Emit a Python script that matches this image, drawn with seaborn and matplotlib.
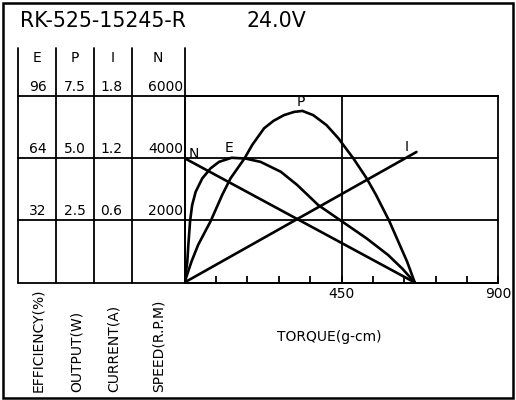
import matplotlib
matplotlib.use("Agg")
import matplotlib.pyplot as plt
from matplotlib.patches import Rectangle
import seaborn as sns

# ----------------- Data -----------------
model = "RK-525-15245-R"
voltage = "24.0V"

torque_speed = [0, 660]
speed_rpm = [4000, 0]

torque_current = [0, 665]
current_a = [0, 1.26]

torque_power = [0, 20, 39, 75, 108, 132, 172, 194, 228, 255, 285, 314, 338, 369, 407, 441,
                484, 522, 549, 587, 617, 638, 660]
power_w = [0, 0.84, 1.51, 2.47, 3.52, 4.19, 4.99, 5.53, 6.2, 6.5, 6.73, 6.86, 6.9, 6.73, 6.33,
           5.8, 4.99, 4.19, 3.52, 2.47, 1.51, 0.84, 0]

torque_eff = [0, 8, 11, 16, 22, 32, 51, 75, 99, 135, 175, 218, 276, 323, 383, 450, 522, 584,
              625, 660]
efficiency = [0, 10.7, 19.3, 31.6, 39.9, 46.7, 53.6, 58.8, 62.1, 64.2, 63.8, 62.1, 57, 50.2,
              39.9, 31.6, 22.7, 14.1, 7, 0]

# scale ticks shown in the left table
eff_ticks = [32, 64, 96]
pow_ticks = ["2.5", "5.0", "7.5"]
cur_ticks = ["0.6", "1.2", "1.8"]
spd_ticks = [2000, 4000, 6000]
axis_names = ["EFFICIENCY(%)", "OUTPUT(W)", "CURRENT(A)", "SPEED(R.P.M)"]
header = ["E", "P", "I", "N"]

# ----------------- Figure setup -----------------
sns.set_theme(style="white")
plt.rcParams["font.family"] = ["DejaVu Sans"]
plt.rcParams["text.color"] = "black"
plt.rcParams["xtick.color"] = "black"
plt.rcParams["xtick.labelcolor"] = "black"

W, H = 516, 400
fig = plt.figure(figsize=(W / 100, H / 100), dpi=100)
fig.patch.set_facecolor("white")


def px(x, y):
    """pixel position (from top-left) to figure fraction"""
    return x / W, 1 - y / H


left, bottom, right, top = 184.5, 282.5, 498.5, 96
ax = fig.add_axes([left / W, 1 - bottom / H, (right - left) / W, (bottom - top) / H])
ax.set_xlim(0, 900)
ax.set_ylim(0, 6000)
ax.set_facecolor("none")

lw_grid = 1.3
for s in ax.spines.values():
    s.set_color("black")
    s.set_linewidth(lw_grid)

xt = list(range(0, 901, 90))
ax.set_xticks(xt)
ax.set_xticklabels([str(t) if t in (450, 900) else "" for t in xt], fontsize=10)
ax.tick_params(axis="x", bottom=True, direction="in", length=5, width=lw_grid,
               color="black", labelcolor="black", pad=3)
ax.set_yticks([])
ax.axvline(450, color="black", lw=lw_grid)

# horizontal lines across table and plot
ytr = ax.get_yaxis_transform()
x_table = (18.3 - left) / (right - left)
for v in [0] + spd_ticks:
    ax.plot([x_table, 1], [v, v], color="black", lw=lw_grid, transform=ytr, clip_on=False)

# table column lines
y_top = (bottom - 48) / (bottom - top)
for cx in [18.3, 56, 94.3, 131.7, 184.5]:
    fx = (cx - left) / (right - left)
    ax.plot([fx, fx], [0, y_top], color="black", lw=lw_grid, transform=ax.transAxes,
            clip_on=False)

# ----------------- Curves -----------------
lw_curve = 1.9
axE = ax.twinx()
axP = ax.twinx()
axI = ax.twinx()
for a, lim in [(axE, 96), (axP, 7.5), (axI, 1.8)]:
    a.set_ylim(0, lim)
    a.axis("off")

sns.lineplot(x=torque_speed, y=speed_rpm, ax=ax, color="black", lw=lw_curve)
sns.lineplot(x=torque_eff, y=efficiency, ax=axE, color="black", lw=lw_curve)
sns.lineplot(x=torque_power, y=power_w, ax=axP, color="black", lw=lw_curve)
sns.lineplot(x=torque_current, y=current_a, ax=axI, color="black", lw=lw_curve)

# curve letters
fs = 10
kw = dict(textcoords="offset pixels", ha="center", va="center", fontsize=fs)
ax.annotate("N", (torque_speed[0], speed_rpm[0]), xytext=(9, 4), **kw)
i_max = efficiency.index(max(efficiency))
axE.annotate("E", (torque_eff[i_max], efficiency[i_max]), xytext=(-3, 10), **kw)
p_max = power_w.index(max(power_w))
axP.annotate("P", (torque_power[p_max], power_w[p_max]), xytext=(-2, 9), **kw)
axI.annotate("I", (torque_current[-1], current_a[-1]), xytext=(-10, 5), **kw)

# ----------------- Table text -----------------
fig.text(*px(20.5, 26.7), model, fontsize=14.8, ha="left", va="baseline")
fig.text(*px(246, 26.7), voltage, fontsize=14.8, ha="left", va="baseline")

for name, cx in zip(header, [37.2, 75.2, 113, 158]):
    fig.text(*px(cx, 58), name, fontsize=fs, ha="center", va="center")

cols = [(eff_ticks, 37.5, "center"), (pow_ticks, 75, "center"),
        (cur_ticks, 111, "center"), (spd_ticks, 183, "right")]
for labels, cx, ha in cols:
    fx = (cx - left) / (right - left)
    for lab, v in zip(labels, spd_ticks):
        ax.annotate(str(lab), (fx, v), xycoords=ytr, xytext=(0, 2), textcoords="offset pixels",
                    ha=ha, va="bottom", fontsize=fs, annotation_clip=False)

for name, cx in zip(axis_names, [38.3, 76.7, 114, 158.3]):
    fig.text(*px(cx, 392.3), name, fontsize=fs, rotation=90, ha="center", va="bottom")

fig.text(*px(329, 337), "TORQUE(g-cm)", fontsize=fs, ha="center", va="center")

# outer frame
fig.patches.append(Rectangle(px(3, 397.5), 510 / W, 394.5 / H, transform=fig.transFigure,
                             fill=False, edgecolor="black", lw=1.8))

fig.savefig("out.png", dpi=100)
